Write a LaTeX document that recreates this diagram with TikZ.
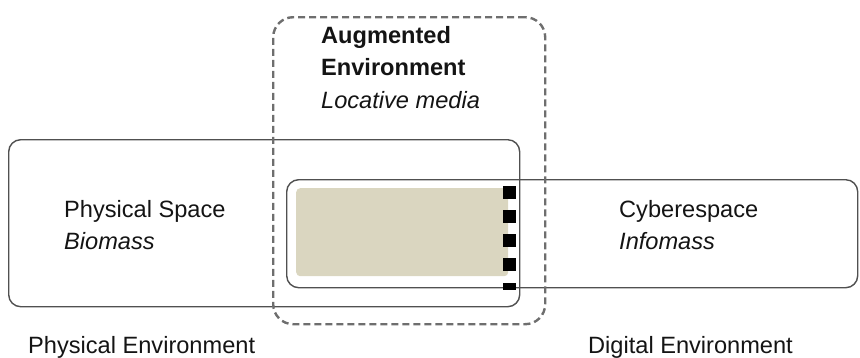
\documentclass[tikz,border=0pt]{standalone}
\usepackage{fontspec}
\setmainfont{Liberation Sans}
\usetikzlibrary{positioning}
\definecolor{linegray}{RGB}{80,80,80}
\definecolor{dashgray}{RGB}{110,110,110}
\definecolor{sandbeige}{RGB}{218,214,192}
\definecolor{inkblack}{RGB}{20,20,20}

\begin{document}
\begin{tikzpicture}[x=1pt, y=-1pt,
  envbox/.style={draw=linegray, line width=1.4pt, rounded corners=12pt, anchor=north west, inner sep=0pt},
  envtext/.style={text=inkblack, anchor=north west, inner sep=0pt, align=left, font=\fontsize{23.6}{32.5}\selectfont},
  portsq/.style={fill=black, draw=none, minimum width=13pt, minimum height=13pt, inner sep=0pt}]
  \useasboundingbox (0,0) rectangle (860,357);

  % Environments
  \node[envbox, minimum width=511pt, minimum height=167pt] (physical) at (8,139) {};
  \node[envbox, minimum width=571pt, minimum height=108pt] (digital) at (286,179) {};
  \node[draw=dashgray, line width=2.4pt, dash pattern=on 7pt off 4pt, rounded corners=20pt, anchor=north west, inner sep=0pt,
        minimum width=272pt, minimum height=307pt] (augmented) at (272,16) {};

  % Overlap zone
  \node[fill=sandbeige, rounded corners=4pt, anchor=north west, inner sep=0pt,
        minimum width=212pt, minimum height=88pt] (overlap) at (296,188) {};
  \foreach \k in {1,...,4}
    \node[portsq] (sq\k) at (509.5, {192.5+24*(\k-1)}) {};
  \node[portsq, minimum height=7pt] (sq5) at (509.5,286.5) {};

  % Labels
  \node[envtext] (augtext) at (321,26) {\textbf{Augmented}\\ \textbf{Environment}\\ \textit{Locative media}};
  \node[envtext] (phystext) at (64,200) {Physical Space\\ \textit{Biomass}};
  \node[envtext] (cybertext) at (619,200) {Cyberespace\\ \textit{Infomass}};
  \node[envtext] (physenv) at (28,336) {Physical Environment};
  \node[envtext] (digienv) at (588,336) {Digital Environment};
\end{tikzpicture}
\end{document}
